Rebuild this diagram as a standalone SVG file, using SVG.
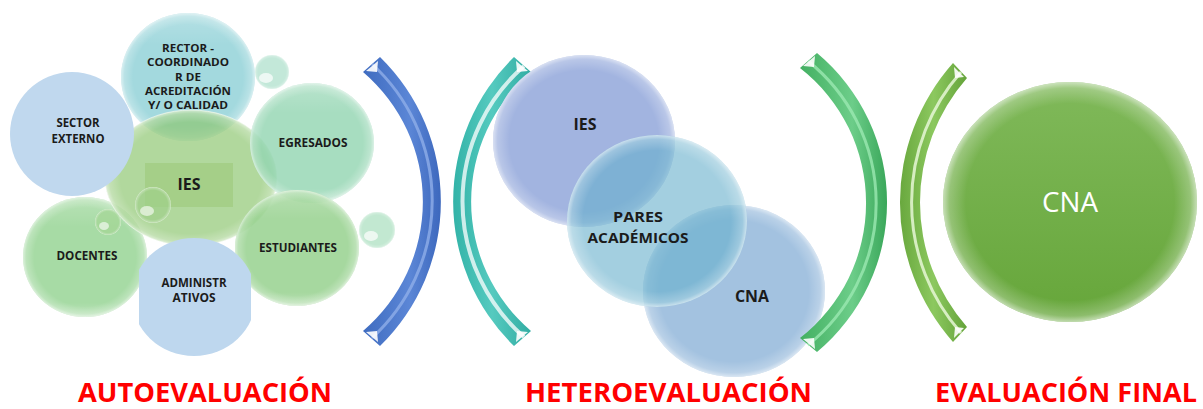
<svg xmlns="http://www.w3.org/2000/svg" width="1203" height="409" viewBox="0 0 1203 409">
<defs>
<radialGradient id="gloss" cx="0.5" cy="0.5" r="0.5">
<stop offset="0" stop-color="#fff" stop-opacity="0"/>
<stop offset="0.82" stop-color="#fff" stop-opacity="0"/>
<stop offset="0.95" stop-color="#fff" stop-opacity="0.25"/>
<stop offset="1" stop-color="#fff" stop-opacity="0.6"/>
</radialGradient>
<linearGradient id="shine" x1="0" y1="0" x2="0" y2="1">
<stop offset="0" stop-color="#fff" stop-opacity="0.2"/>
<stop offset="0.25" stop-color="#fff" stop-opacity="0"/>
<stop offset="0.88" stop-color="#fff" stop-opacity="0"/>
<stop offset="1" stop-color="#fff" stop-opacity="0.25"/>
</linearGradient>
<linearGradient id="cnaFill" x1="0" y1="0" x2="0" y2="1">
<stop offset="0" stop-color="#80b95a"/>
<stop offset="1" stop-color="#66a63a"/>
</linearGradient>
<linearGradient id="gBlue" x1="0" y1="0" x2="1" y2="0">
<stop offset="0" stop-color="#3f6cc0"/>
<stop offset="0.6" stop-color="#5b86d6"/>
<stop offset="1" stop-color="#3d68bd"/>
</linearGradient>
<linearGradient id="gTeal" x1="0" y1="0" x2="1" y2="0">
<stop offset="0" stop-color="#33b3a8"/>
<stop offset="0.5" stop-color="#55cabf"/>
<stop offset="1" stop-color="#32ada3"/>
</linearGradient>
<linearGradient id="gGreen" x1="0" y1="0" x2="1" y2="0">
<stop offset="0" stop-color="#43b062"/>
<stop offset="0.6" stop-color="#6ccd89"/>
<stop offset="1" stop-color="#3aa75a"/>
</linearGradient>
<linearGradient id="gOlive" x1="0" y1="0" x2="1" y2="0">
<stop offset="0" stop-color="#69a83e"/>
<stop offset="0.5" stop-color="#8cc85f"/>
<stop offset="1" stop-color="#64a33a"/>
</linearGradient>
<clipPath id="adminClip"><rect x="139" y="230" width="112" height="140"/><rect x="120" y="230" width="150" height="33"/></clipPath>
</defs>
<style>
.lbl{font-family:"Open Sans","Liberation Sans",sans-serif;font-weight:bold;fill:#1b1b1b;text-anchor:middle}
.s{font-size:12.5px}
.r{font-size:11px}
.m{font-size:16.5px}
.p{font-size:15px}
.stage{font-family:"Open Sans","Liberation Sans",sans-serif;font-weight:bold;fill:#ff0000;font-size:26px}
.rim{fill:url(#gloss)}
.sh{fill:url(#shine)}
.edge{fill:none;stroke:#ffffff;stroke-opacity:0.55;stroke-width:1}
.tip{fill:#ffffff;opacity:0.9}
</style>
<rect width="1203" height="409" fill="#ffffff"/>

<!-- Left cluster -->
<g id="rector">
<ellipse cx="188" cy="77" rx="67" ry="64" fill="#a3d9de"/>
<ellipse cx="188" cy="77" rx="67" ry="64" class="rim"/>
<ellipse cx="188" cy="77" rx="67" ry="64" class="sh"/>
<text class="lbl r" x="188" y="52" textLength="52" lengthAdjust="spacingAndGlyphs">RECTOR -</text>
<text class="lbl r" x="188" y="66" textLength="82" lengthAdjust="spacingAndGlyphs">COORDINADO</text>
<text class="lbl r" x="188" y="81" textLength="26" lengthAdjust="spacingAndGlyphs">R DE</text>
<text class="lbl r" x="188" y="95" textLength="86" lengthAdjust="spacingAndGlyphs">ACREDITACIÓN</text>
<text class="lbl r" x="188" y="109" textLength="80" lengthAdjust="spacingAndGlyphs">Y/ O CALIDAD</text>
</g>
<g id="docentes">
<ellipse cx="85" cy="257" rx="62" ry="60" fill="#a7dba5"/>
<ellipse cx="85" cy="257" rx="62" ry="60" class="rim"/>
<ellipse cx="85" cy="257" rx="62" ry="60" class="sh"/>
<text class="lbl s" x="87" y="260" textLength="61" lengthAdjust="spacingAndGlyphs">DOCENTES</text>
</g>
<g id="ies-left">
<ellipse cx="191" cy="178" rx="86" ry="68" fill="#8cc66f" fill-opacity="0.68"/>
<ellipse cx="191" cy="178" rx="86" ry="68" class="rim"/>
<ellipse cx="191" cy="178" rx="86" ry="68" class="edge"/>
<rect x="145" y="163" width="88" height="44" fill="#a4ce86" fill-opacity="0.9"/>
<text class="lbl m" x="189" y="190" textLength="23" lengthAdjust="spacingAndGlyphs">IES</text>
</g>
<g id="egresados">
<ellipse cx="312" cy="143" rx="62" ry="60" fill="#8ed3ae" fill-opacity="0.78"/>
<ellipse cx="312" cy="143" rx="62" ry="60" class="rim"/>
<ellipse cx="312" cy="143" rx="62" ry="60" class="sh"/>
<text class="lbl s" x="313" y="147" textLength="69" lengthAdjust="spacingAndGlyphs">EGRESADOS</text>
</g>
<g id="estudiantes">
<ellipse cx="297" cy="248" rx="62" ry="58" fill="#92cf8a" fill-opacity="0.82"/>
<ellipse cx="297" cy="248" rx="62" ry="58" class="rim"/>
<ellipse cx="297" cy="248" rx="62" ry="58" class="sh"/>
<text class="lbl s" x="298" y="252" textLength="78" lengthAdjust="spacingAndGlyphs">ESTUDIANTES</text>
</g>
<g id="bubbles">
<circle cx="272" cy="72" r="17" fill="#b4e2d0" fill-opacity="0.8"/>
<circle cx="272" cy="72" r="17" class="rim"/>
<ellipse cx="266" cy="78" rx="7" ry="5" fill="#fff" opacity="0.7"/>
<circle cx="377" cy="230" r="18" fill="#b3e2c6" fill-opacity="0.8"/>
<circle cx="377" cy="230" r="18" class="rim"/>
<ellipse cx="371" cy="236" rx="7" ry="5" fill="#fff" opacity="0.7"/>
<circle cx="153" cy="205" r="18" fill="#9fd08a" fill-opacity="0.7"/>
<circle cx="153" cy="205" r="18" class="rim"/>
<ellipse cx="147" cy="211" rx="7" ry="5" fill="#fff" opacity="0.6"/>
<circle cx="108" cy="222" r="13" fill="#a4d594" fill-opacity="0.7"/>
<circle cx="108" cy="222" r="13" class="rim"/>
<ellipse cx="104" cy="226" rx="5" ry="4" fill="#fff" opacity="0.6"/>
</g>
<g id="sector-externo">
<ellipse cx="72" cy="134" rx="62" ry="62" fill="#c0d8ee"/>
<text class="lbl s" x="78" y="127" textLength="43" lengthAdjust="spacingAndGlyphs">SECTOR</text>
<text class="lbl s" x="78" y="143" textLength="53" lengthAdjust="spacingAndGlyphs">EXTERNO</text>
</g>
<g id="administrativos">
<ellipse cx="194" cy="297" rx="62" ry="59" fill="#bed7ee" clip-path="url(#adminClip)"/>
<text class="lbl s" x="194" y="287" textLength="65" lengthAdjust="spacingAndGlyphs">ADMINISTR</text>
<text class="lbl s" x="194" y="302" textLength="43" lengthAdjust="spacingAndGlyphs">ATIVOS</text>
</g>

<!-- Brackets -->
<g id="connectors">
<path d="M380 57 A202 202 0 0 1 380 346 L363 331 A170 170 0 0 0 363 72 Z" fill="url(#gBlue)"/>
<path d="M372 64 A186 186 0 0 1 372 338" fill="none" stroke="#8eaee8" stroke-width="3" opacity="0.8"/>
<polygon class="tip" points="366,71 378,61 377,72"/>
<polygon class="tip" points="366,332 378,342 377,331"/>

<path d="M514 57 A202 202 0 0 0 514 346 L531 331 A170 170 0 0 1 531 72 Z" fill="url(#gTeal)"/>
<path d="M524 66 A180 180 0 0 0 524 337" fill="none" stroke="#ffffff" stroke-width="4" opacity="0.75"/>
<polygon class="tip" points="528,71 516,61 517,72"/>
<polygon class="tip" points="528,332 516,342 517,331"/>

<path d="M953 63 A210 210 0 0 0 953 342 L967 327 A188.4 188.4 0 0 1 967 78 Z" fill="url(#gOlive)"/>
<path d="M961 72 A197 197 0 0 0 961 333" fill="none" stroke="#e6f7d6" stroke-width="3" opacity="0.85"/>
<polygon class="tip" points="964,77 954,67 955,78"/>
<polygon class="tip" points="964,328 954,338 955,327"/>
</g>

<!-- Middle cluster -->
<g id="ies-mid">
<ellipse cx="584" cy="141" rx="91" ry="86" fill="#a2b4e0"/>
<ellipse cx="584" cy="141" rx="91" ry="86" class="rim"/>
<text class="lbl m" x="585" y="130" textLength="23" lengthAdjust="spacingAndGlyphs">IES</text>
</g>
<g id="cna-mid">
<ellipse cx="734" cy="291" rx="91" ry="86" fill="#6699cb" fill-opacity="0.6"/>
<ellipse cx="734" cy="291" rx="91" ry="86" class="rim"/>
<text class="lbl m" x="752" y="302" textLength="34" lengthAdjust="spacingAndGlyphs">CNA</text>
</g>
<g id="pares">
<ellipse cx="657" cy="221" rx="90" ry="86" fill="#66afcb" fill-opacity="0.6"/>
<ellipse cx="657" cy="221" rx="90" ry="86" class="rim"/>
<text class="lbl p" x="638" y="222" textLength="50" lengthAdjust="spacingAndGlyphs">PARES</text>
<text class="lbl p" x="638" y="243" textLength="101" lengthAdjust="spacingAndGlyphs">ACADÉMICOS</text>
</g>
<g id="connector-green">
<path d="M817 53 A194.6 194.6 0 0 1 817 352 L800 338 A171 171 0 0 0 800 68 Z" fill="url(#gGreen)"/>
<path d="M808 61 A182 182 0 0 1 808 345" fill="none" stroke="#9be8b2" stroke-width="3" opacity="0.8"/>
<polygon class="tip" points="803,66 815,56 814,67"/>
<polygon class="tip" points="803,339 815,349 814,338"/>
</g>

<!-- Right -->
<g id="cna-final">
<ellipse cx="1070" cy="202" rx="127" ry="120" fill="url(#cnaFill)"/>
<ellipse cx="1070" cy="202" rx="127" ry="120" class="rim"/>
<text x="1070" y="212" text-anchor="middle" font-family="'Open Sans','Liberation Sans',sans-serif" font-size="28" fill="#ffffff" textLength="56" lengthAdjust="spacingAndGlyphs">CNA</text>
</g>

<!-- Stage labels -->
<g id="stages">
<text class="stage" x="78" y="402" textLength="254" lengthAdjust="spacingAndGlyphs">AUTOEVALUACIÓN</text>
<text class="stage" x="525" y="402" textLength="287" lengthAdjust="spacingAndGlyphs">HETEROEVALUACIÓN</text>
<text class="stage" x="935" y="402" textLength="262" lengthAdjust="spacingAndGlyphs">EVALUACIÓN FINAL</text>
</g>
</svg>
